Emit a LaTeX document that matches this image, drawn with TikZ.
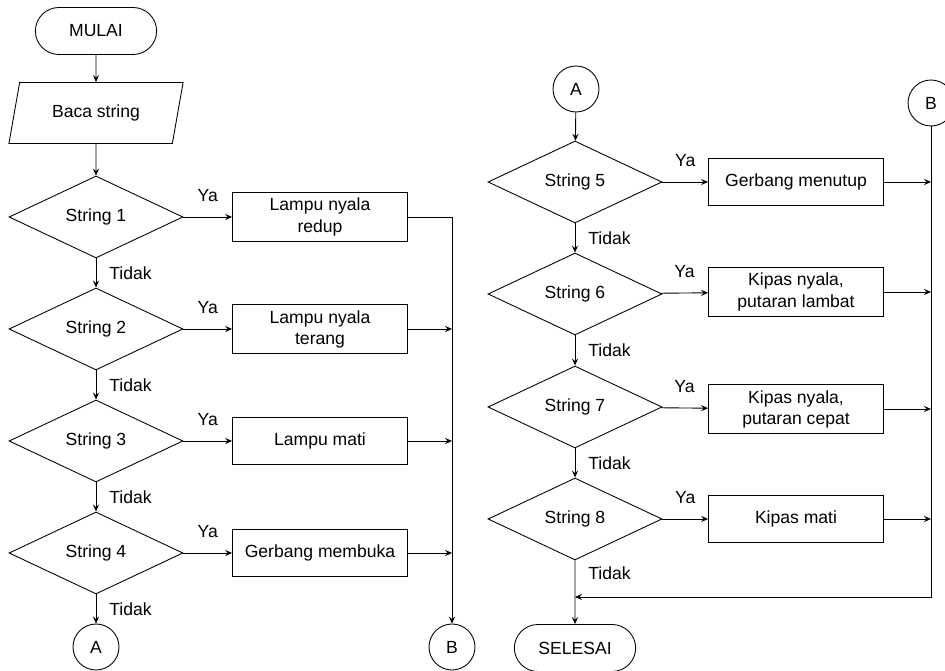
\documentclass[tikz,border=0pt]{standalone}
\usepackage{fontspec}
\setmainfont{Liberation Sans}
\usetikzlibrary{shapes.geometric,shapes.misc,arrows.meta}

\begin{document}
\begin{tikzpicture}[x=0.02cm, y=-0.02cm, font=\fontsize{10}{12}\selectfont,
line width=0.5pt, >={Stealth[length=4pt,width=3.5pt,inset=1.5pt]},
terminal/.style={draw, rounded rectangle, minimum width=2.66cm, minimum height=0.94cm},
io/.style={draw, trapezium, trapezium left angle=76, trapezium right angle=104,
  trapezium stretches=true, minimum width=3.5cm, minimum height=1.22cm},
decision/.style={draw, diamond, inner sep=0pt, minimum width=3.48cm, minimum height=1.64cm},
process/.style={draw, rectangle, align=center, minimum width=3.5cm, minimum height=0.94cm},
connector/.style={draw, circle, inner sep=0pt, minimum size=0.92cm},
ya/.style={above=5pt}, tidak/.style={right=4pt}]
\useasboundingbox (0,0) rectangle (945,671);
% kolom kiri
\node[terminal] (mulai) at (96,31) {MULAI};
\node[io] (baca) at (96,113) {Baca string};
\node[decision] (s1) at (96,217) {String 1};
\node[decision] (s2) at (96,329) {String 2};
\node[decision] (s3) at (96,441) {String 3};
\node[decision] (s4) at (96,553) {String 4};
\node[process] (p1) at (320,217) {Lampu nyala\\redup};
\node[process] (p2) at (320,329) {Lampu nyala\\terang};
\node[process] (p3) at (320,441) {Lampu mati};
\node[process] (p4) at (320,553) {Gerbang membuka};
\node[connector] (a1) at (96,647) {A};
\node[connector] (b1) at (452,647) {B};
% kolom kanan
\node[connector] (a2) at (576,89) {A};
\node[connector] (b2) at (931,103) {B};
\node[decision] (s5) at (575,182) {String 5};
\node[decision] (s6) at (575,294) {String 6};
\node[decision] (s7) at (575,407) {String 7};
\node[decision] (s8) at (575,519) {String 8};
\node[process] (p5) at (796,182) {Gerbang menutup};
\node[process] (p6) at (796,292) {Kipas nyala,\\putaran lambat};
\node[process] (p7) at (796,409) {Kipas nyala,\\putaran cepat};
\node[process] (p8) at (796,519) {Kipas mati};
\node[terminal] (selesai) at (575,648) {SELESAI};
\coordinate (join) at (575,597);

\path[->]
(mulai) edge (baca)
(baca) edge (s1)
(s1) edge node[ya] {Ya} (p1)
     edge node[tidak] {Tidak} (s2)
(s2) edge node[ya] {Ya} (p2)
     edge node[tidak] {Tidak} (s3)
(s3) edge node[ya] {Ya} (p3)
     edge node[tidak] {Tidak} (s4)
(s4) edge node[ya] {Ya} (p4)
     edge node[tidak] {Tidak} (a1)
(p2) edge (p2 -| b1)
(p3) edge (p3 -| b1)
(p4) edge (p4 -| b1)
(a2) edge (s5)
(s5) edge node[ya] {Ya} (p5)
     edge node[tidak] {Tidak} (s6)
(s6) edge node[ya] {Ya} (p6)
     edge node[tidak] {Tidak} (s7)
(s7) edge node[ya] {Ya} (p7)
     edge node[tidak] {Tidak} (s8)
(s8) edge node[ya] {Ya} (p8)
     edge node[tidak, pos=0.2] {Tidak} (selesai)
(p5) edge (p5 -| b2)
(p6) edge (p6 -| b2)
(p7) edge (p7 -| b2)
(p8) edge (p8 -| b2);
\draw[->] (p1) -| (b1);
\draw[->] (b2) |- (join);
\end{tikzpicture}
\end{document}
